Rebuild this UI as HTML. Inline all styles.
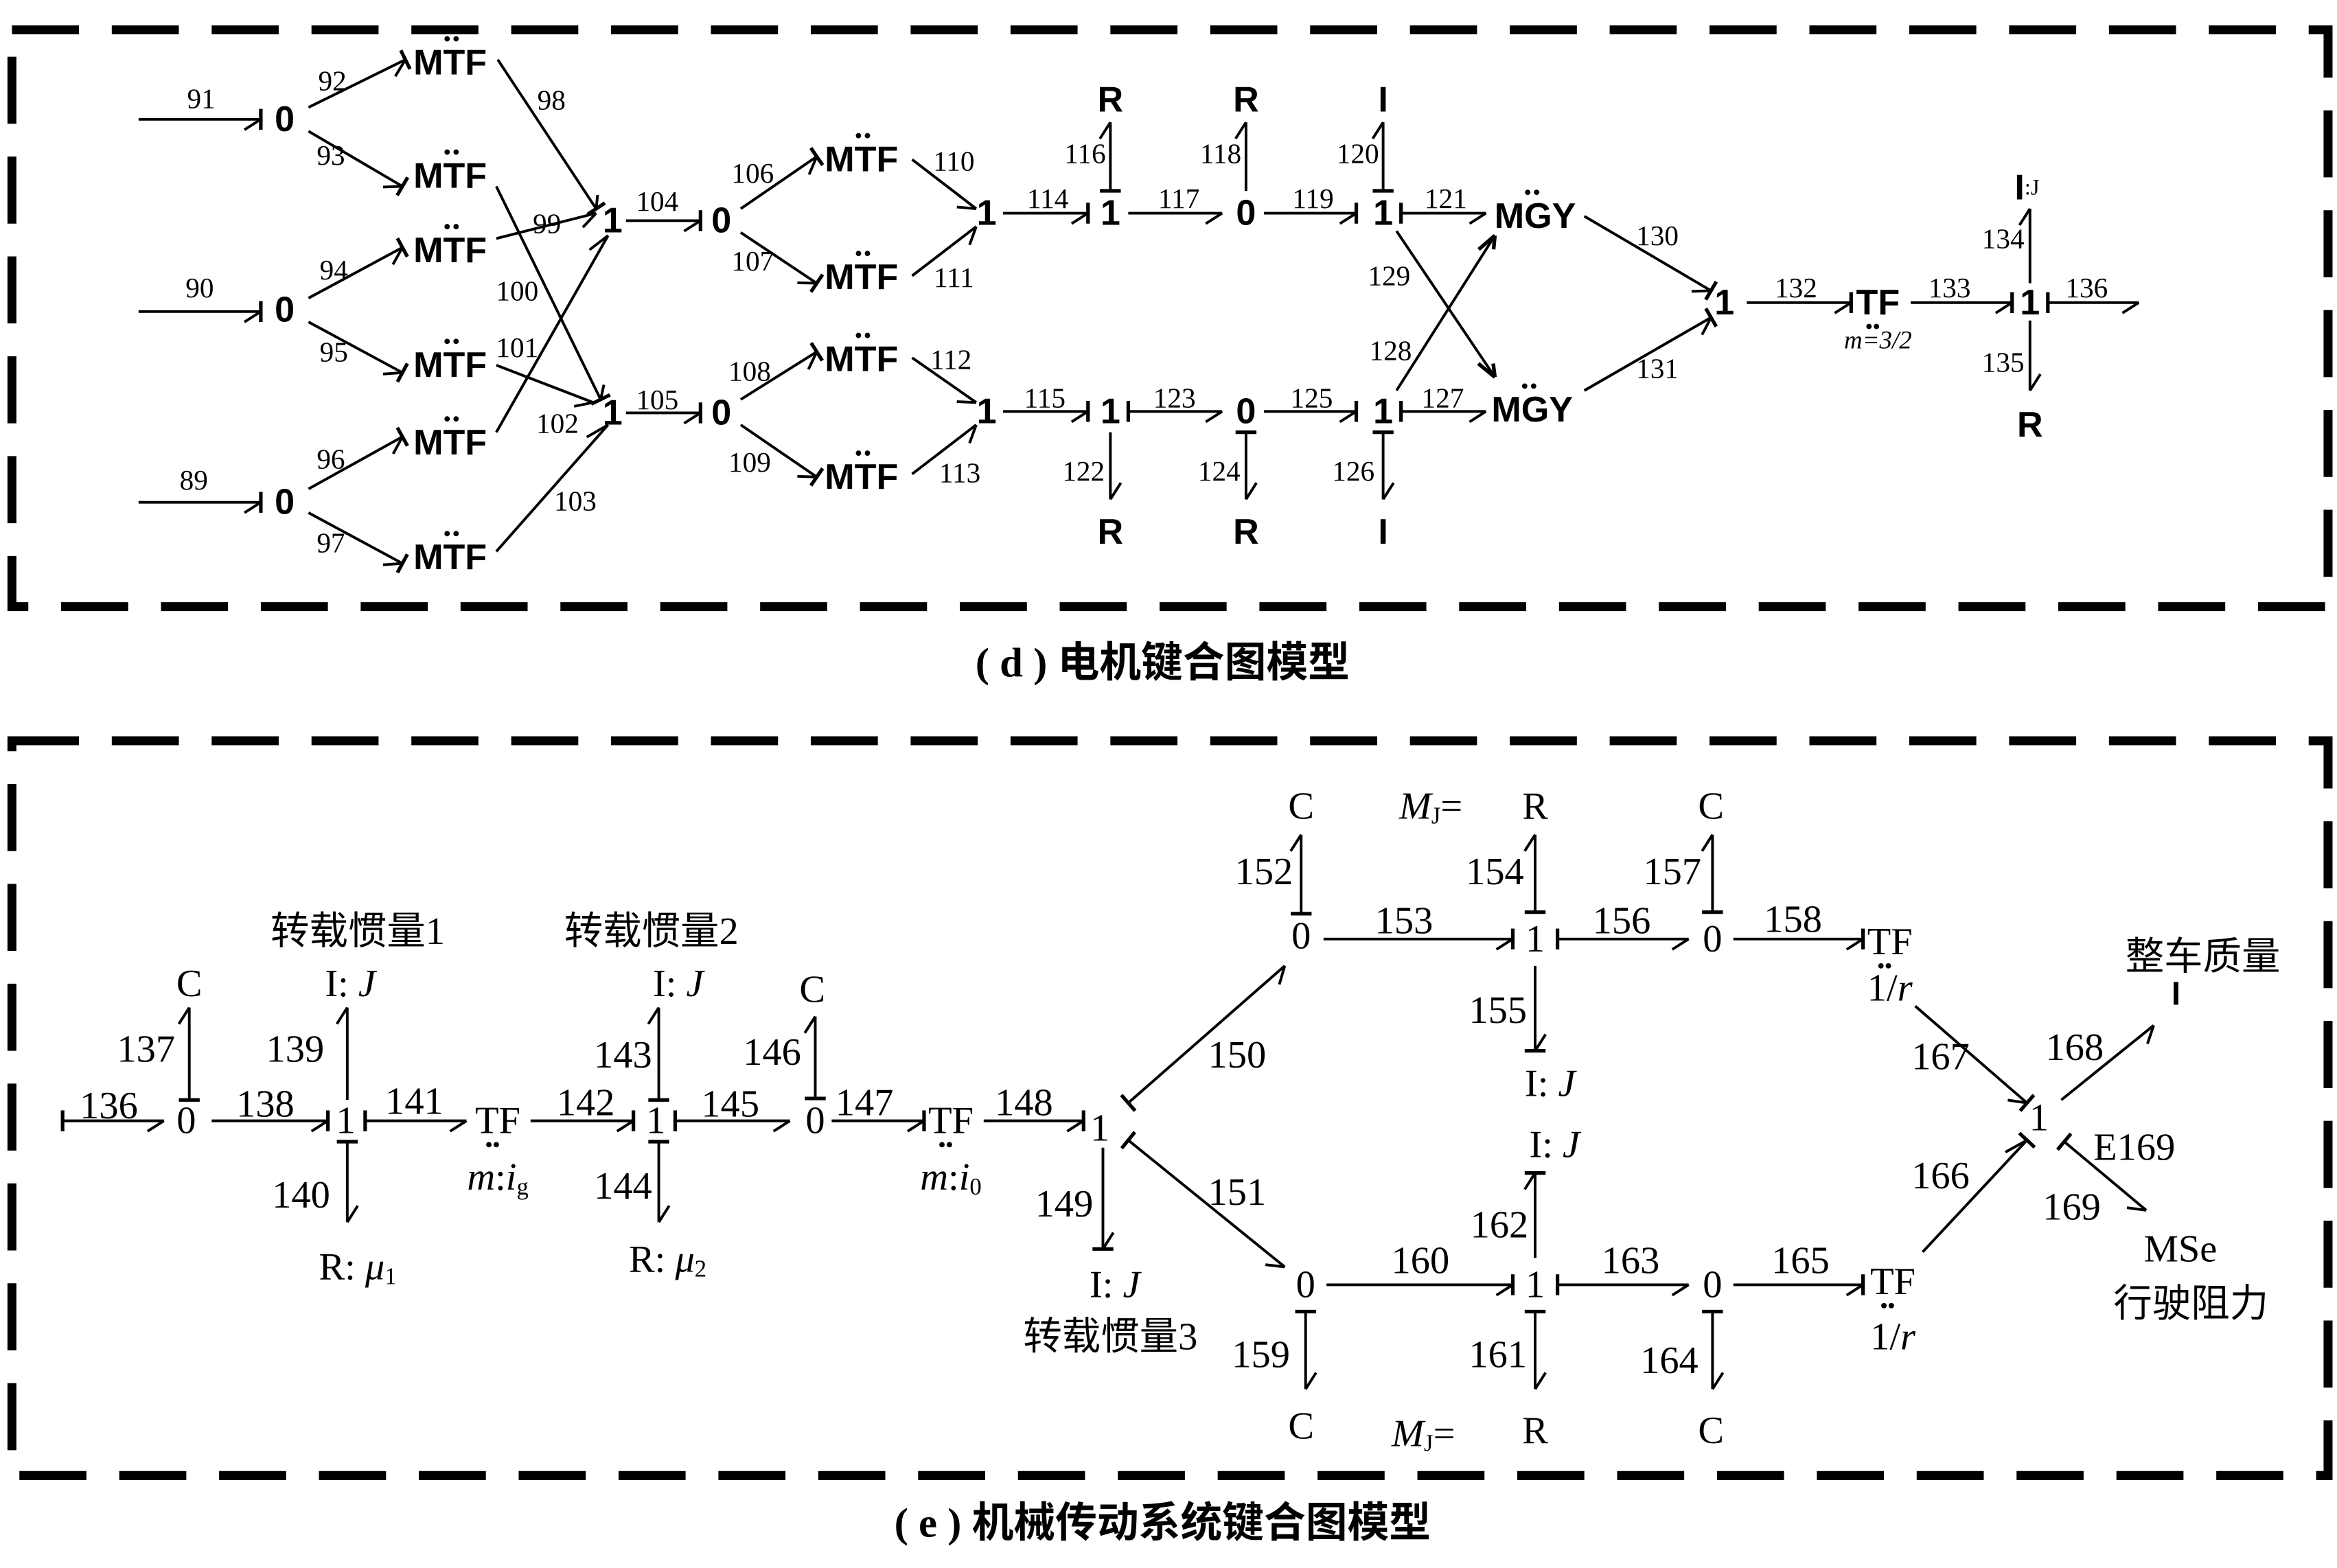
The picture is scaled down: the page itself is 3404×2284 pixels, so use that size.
<!DOCTYPE html>
<html><head><meta charset="utf-8"><style>
html,body{margin:0;padding:0;background:#fff}
svg{display:block}
.n{font-family:"Liberation Sans",sans-serif;font-weight:bold;font-size:24px}
.l{font-family:"Liberation Serif",serif;font-size:19px}
.e{font-family:"Liberation Serif","Noto Serif CJK SC",serif;font-size:26px}
.el{font-family:"Liberation Serif",serif;font-size:26px}
.cap{font-family:"Liberation Serif","Noto Sans CJK SC",sans-serif;font-size:28px;font-weight:bold}
.z{font-family:"Liberation Serif","Noto Sans CJK SC",sans-serif;font-size:26px}
text{text-anchor:middle;dominant-baseline:central;fill:#000}
</style></head><body>
<svg id="s" width="3404" height="2284" viewBox="0 0 1568 1052" xmlns="http://www.w3.org/2000/svg">
<g fill="none" stroke="#000" stroke-width="6" stroke-dasharray="45,22">
<rect x="8" y="20" width="1554" height="387"/>
<rect x="8" y="497" width="1554" height="493"/>
</g>
<g id="b" stroke="#000" stroke-width="1.8" fill="none"></g>
<g id="d"></g>
<g class="n">
<text x="191" y="80">0</text><text x="191" y="208">0</text><text x="191" y="337">0</text>
<text x="302" y="42">MTF</text><text x="302" y="118">MTF</text><text x="302" y="168">MTF</text>
<text x="302" y="245">MTF</text><text x="302" y="297">MTF</text><text x="302" y="374">MTF</text>
<text x="411" y="148">1</text><text x="411" y="277">1</text>
<text x="484" y="148">0</text><text x="484" y="277">0</text>
<text x="578" y="107">MTF</text><text x="578" y="186">MTF</text><text x="578" y="241">MTF</text><text x="578" y="320">MTF</text>
<text x="662" y="143">1</text><text x="662" y="276">1</text>
<text x="745" y="143">1</text><text x="745" y="67">R</text>
<text x="836" y="143">0</text><text x="836" y="67">R</text>
<text x="928" y="143">1</text><text x="928" y="67">I</text>
<text x="1030" y="145">MGY</text><text x="1028" y="275">MGY</text>
<text x="745" y="276">1</text><text x="745" y="357">R</text>
<text x="836" y="276">0</text><text x="836" y="357">R</text>
<text x="928" y="276">1</text><text x="928" y="357">I</text>
<text x="1157" y="203">1</text><text x="1260" y="203">TF</text>
<text x="1362" y="203">1</text><text x="1362" y="285">R</text>
<text x="1360" y="126">I<tspan style="font-size:15px;font-weight:normal;font-family:'Liberation Serif'">:J</tspan></text>
</g>
<text class="l" x="1260" y="228" style="font-style:italic;font-size:17px">m=3/2</text>
<g class="l">
<text x="135" y="66">91</text><text x="223" y="54">92</text><text x="222" y="104">93</text>
<text x="134" y="193">90</text><text x="224" y="181">94</text><text x="224" y="236">95</text>
<text x="130" y="322">89</text><text x="222" y="308">96</text><text x="222" y="364">97</text>
<text x="370" y="67">98</text><text x="367" y="150">99</text><text x="347" y="195">100</text>
<text x="347" y="233">101</text><text x="374" y="284">102</text><text x="386" y="336">103</text>
<text x="441" y="135">104</text><text x="441" y="268">105</text>
<text x="505" y="116">106</text><text x="505" y="175">107</text><text x="503" y="249">108</text><text x="503" y="310">109</text>
<text x="640" y="108">110</text><text x="640" y="186">111</text><text x="638" y="241">112</text><text x="644" y="317">113</text>
<text x="703" y="133">114</text><text x="728" y="103">116</text><text x="819" y="103">118</text><text x="911" y="103">120</text>
<text x="791" y="133">117</text><text x="881" y="133">119</text><text x="970" y="133">121</text>
<text x="932" y="185">129</text><text x="933" y="235">128</text>
<text x="1112" y="158">130</text><text x="1112" y="247">131</text>
<text x="1205" y="193">132</text><text x="1308" y="193">133</text><text x="1344" y="160">134</text>
<text x="1344" y="243">135</text><text x="1400" y="193">136</text>
<text x="701" y="267">115</text><text x="727" y="316">122</text><text x="788" y="267">123</text>
<text x="818" y="316">124</text><text x="880" y="267">125</text><text x="908" y="316">126</text><text x="968" y="267">127</text>
</g>
<text class="cap" x="780" y="445">( d ) 电机键合图模型</text>
<g class="el">
<text x="125" y="752">0</text><text x="232" y="752">1</text><text x="334" y="752">TF</text>
<text x="440" y="752">1</text><text x="547" y="752">0</text><text x="638" y="752">TF</text>
<text x="738" y="757">1</text><text x="873" y="628">0</text><text x="1030" y="630">1</text>
<text x="1149" y="630">0</text><text x="1268" y="632">TF</text><text x="1368" y="750">1</text>
<text x="876" y="862">0</text><text x="1030" y="862">1</text><text x="1149" y="862">0</text><text x="1270" y="860">TF</text>
<text x="127" y="660">C</text><text x="545" y="664">C</text>
<text x="873" y="541">C</text><text x="1030" y="541">R</text><text x="1148" y="541">C</text>
<text x="873" y="957">C</text><text x="1030" y="960">R</text><text x="1148" y="960">C</text>
<text x="1460" y="667" style="font-family:'Liberation Sans';font-weight:bold;font-size:22px">I</text>
<text x="1432" y="770">E169</text><text x="1463" y="838">MSe</text>
<text x="235" y="660">I: <tspan font-style="italic">J</tspan></text>
<text x="455" y="660">I: <tspan font-style="italic">J</tspan></text>
<text x="748" y="862">I: <tspan font-style="italic">J</tspan></text>
<text x="1040" y="727">I: <tspan font-style="italic">J</tspan></text>
<text x="1043" y="768">I: <tspan font-style="italic">J</tspan></text>
<text x="240" y="850">R: <tspan font-style="italic">μ</tspan><tspan font-size="16" dy="6">1</tspan></text>
<text x="448" y="845">R: <tspan font-style="italic">μ</tspan><tspan font-size="16" dy="6">2</tspan></text>
<text x="960" y="541"><tspan font-style="italic">M</tspan><tspan font-size="16" dy="6">J</tspan><tspan dy="-6">=</tspan></text>
<text x="955" y="962"><tspan font-style="italic">M</tspan><tspan font-size="16" dy="6">J</tspan><tspan dy="-6">=</tspan></text>
<text x="334" y="790"><tspan font-style="italic">m</tspan>:<tspan font-style="italic">i</tspan><tspan font-size="16" dy="6">g</tspan></text>
<text x="638" y="790"><tspan font-style="italic">m</tspan>:<tspan font-style="italic">i</tspan><tspan font-size="16" dy="6">0</tspan></text>
<text x="1268" y="663">1/<tspan font-style="italic">r</tspan></text>
<text x="1270" y="897">1/<tspan font-style="italic">r</tspan></text>
<text x="73" y="742">136</text><text x="98" y="704">137</text><text x="178" y="741">138</text>
<text x="198" y="704">139</text><text x="202" y="802">140</text><text x="278" y="739">141</text>
<text x="393" y="740">142</text><text x="418" y="708">143</text><text x="418" y="796">144</text>
<text x="490" y="741">145</text><text x="518" y="706">146</text><text x="580" y="740">147</text>
<text x="687" y="740">148</text><text x="714" y="808">149</text><text x="830" y="708">150</text>
<text x="830" y="800">151</text><text x="848" y="585">152</text><text x="942" y="618">153</text>
<text x="1003" y="585">154</text><text x="1005" y="678">155</text><text x="1088" y="618">156</text>
<text x="1122" y="585">157</text><text x="1203" y="617">158</text><text x="1302" y="709">167</text>
<text x="1392" y="703">168</text><text x="1390" y="810">169</text><text x="1302" y="789">166</text>
<text x="846" y="909">159</text><text x="953" y="846">160</text><text x="1005" y="909">161</text>
<text x="1006" y="822">162</text><text x="1094" y="846">163</text><text x="1120" y="913">164</text><text x="1208" y="846">165</text>
</g>
<g class="z">
<text x="240" y="625">转载惯量1</text><text x="437" y="625">转载惯量2</text>
<text x="745" y="897">转载惯量3</text><text x="1478" y="642">整车质量</text><text x="1470" y="875">行驶阻力</text>
</g>
<text class="cap" x="780" y="1022">( e ) 机械传动系统键合图模型</text>
</svg>
<script>
var B=document.getElementById('b'),D=document.getElementById('d');
function L(a,b,c,d,w){var e=document.createElementNS('http://www.w3.org/2000/svg','line');e.setAttribute('x1',a);e.setAttribute('y1',b);e.setAttribute('x2',c);e.setAttribute('y2',d);if(w)e.setAttribute('stroke-width',w);B.appendChild(e);}
function bd(x1,y1,x2,y2,s){L(x1,y1,x2,y2);var dx=x2-x1,dy=y2-y1,l=Math.hypot(dx,dy),ux=dx/l,uy=dy/l,nx,ny;
 if(Math.abs(uy)>Math.abs(ux)){nx=uy>0?1:-1;ny=0;}
 else{nx=0;ny=1;if(Math.abs(uy)>0.2){nx=-uy*(ux>0?1:-1);ny=Math.abs(ux);}}
 if(s=='a'){L(x2,y2,x2-11*ux+5*nx,y2-11*uy+5*ny,2.5);L(x2,y2,x2-11*ux-5*nx,y2-11*uy-5*ny,2.5);return;}
 L(x2,y2,x2-11*ux+7*nx,y2-11*uy+7*ny);
 var px=-uy*7,py=ux*7;
 if(s=='e')L(x2+px,y2+py,x2-px,y2-py,2.4);
 if(s=='s')L(x1+px,y1+py,x1-px,y1-py,2.4);}
var E=[[93,80,175,80,'e'],[207,72,272,40,'e'],[207,88,270,125,'e'],[93,209,175,209,'e'],[207,200,270,166,'e'],[207,216,270,250,'e'],
[93,337,175,337,'e'],[207,328,270,293,'e'],[207,344,270,378,'e'],[334,40,400,140,'e'],[333,160,400,143,''],[333,125,403,268,'e'],
[333,290,408,158,''],[333,245,398,270,''],[333,370,408,285,''],[420,148,470,148,'e'],[420,277,470,277,'e'],
[497,140,548,105,'e'],[497,156,548,190,'e'],[497,268,548,236,'e'],[497,285,548,320,'e'],
[612,107,655,140,''],[612,185,655,152,''],[612,240,655,270,''],[612,318,655,285,''],
[673,143,730,143,'e'],[745,128,745,82,'s'],[836,128,836,82,''],[928,128,928,82,'s'],[757,143,820,143,''],[848,143,910,143,'e'],
[940,143,997,143,'s'],[937,155,1003,253,'a'],[937,262,1003,158,'a'],[1063,145,1148,195,'e'],[1063,262,1148,213,'e'],
[1172,203,1242,203,'e'],[1282,203,1350,203,'e'],[1362,190,1362,140,''],[1362,215,1362,262,''],[1374,203,1435,203,'s'],
[673,276,730,276,'e'],[745,290,745,335,''],[757,276,820,276,'s'],[836,290,836,335,'s'],[848,276,910,276,'e'],[928,290,928,335,'s'],[940,276,997,276,'s'],
[42,752,110,752,'s'],[127,738,127,676,'s'],[142,752,220,752,'e'],[233,738,233,676,''],[233,766,233,820,'s'],[245,752,313,752,'s'],
[356,752,425,752,'e'],[442,738,442,676,'s'],[442,766,442,820,'s'],[453,752,530,752,'s'],[547,737,547,682,'s'],[558,752,620,752,'e'],
[660,752,727,752,'e'],[740,770,740,838,'e'],[757,740,862,648,'s'],[757,765,862,850,'s'],[873,613,873,560,'s'],[888,630,1015,630,'e'],
[1030,612,1030,560,'s'],[1030,648,1030,705,'e'],[1045,630,1133,630,'s'],[1149,612,1149,560,'s'],[1163,630,1250,630,'e'],
[1285,675,1360,740,'e'],[1383,738,1445,688,''],[1385,766,1440,812,'s'],[1290,840,1360,765,'e'],[876,880,876,932,'s'],
[890,862,1015,862,'e'],[1030,880,1030,932,'s'],[1030,844,1030,787,'e'],[1045,862,1133,862,'s'],[1149,880,1149,932,'s'],[1163,862,1250,862,'e']];
E.forEach(function(a){bd.apply(null,a)});
function dot(x,y){var c=document.createElementNS('http://www.w3.org/2000/svg','circle');c.setAttribute('cx',x);c.setAttribute('cy',y);c.setAttribute('r',1.8);D.appendChild(c);}
[[302,42],[302,118],[302,168],[302,245],[302,297],[302,374],[578,107],[578,186],[578,241],[578,320]].forEach(function(p){dot(p[0]-2,p[1]-16);dot(p[0]+4,p[1]-16);});
[[1030,145],[1028,275]].forEach(function(p){dot(p[0]-5,p[1]-16);dot(p[0]+1,p[1]-16);});
[[1260,203],[334,752],[638,752],[1268,632],[1270,860]].forEach(function(p){dot(p[0]-6,p[1]+16);dot(p[0]-1,p[1]+16);});
</script>
</body></html>
